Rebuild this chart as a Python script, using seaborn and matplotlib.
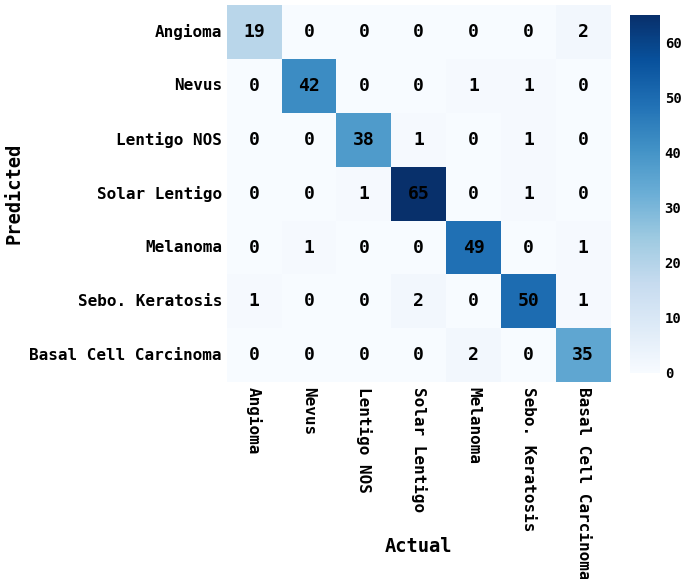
import matplotlib
matplotlib.use("Agg")
import matplotlib.pyplot as plt
import seaborn as sns
import numpy as np

classes = ["Angioma", "Nevus", "Lentigo NOS", "Solar Lentigo", "Melanoma",
           "Sebo. Keratosis", "Basal Cell Carcinoma"]
row_angioma = [19, 0, 0, 0, 0, 0, 2]
row_nevus = [0, 42, 0, 0, 1, 1, 0]
row_lentigo = [0, 0, 38, 1, 0, 1, 0]
row_solar = [0, 0, 1, 65, 0, 1, 0]
row_melanoma = [0, 1, 0, 0, 49, 0, 1]
row_sebo = [1, 0, 0, 2, 0, 50, 1]
row_bcc = [0, 0, 0, 0, 2, 0, 35]

cm = np.array([row_angioma, row_nevus, row_lentigo, row_solar,
               row_melanoma, row_sebo, row_bcc])

plt.rcParams['font.family'] = ['DejaVu Sans Mono']
plt.rcParams['font.weight'] = 'bold'

fig = plt.figure(figsize=(6.83, 5.79), dpi=100)
ax = fig.add_axes([0.332, 0.340, 0.562, 0.651])
cax = fig.add_axes([0.922, 0.356, 0.044, 0.618])

sns.heatmap(cm, annot=True, fmt="d", cmap="Blues", vmin=0, vmax=65,
            xticklabels=classes, yticklabels=classes, ax=ax, cbar_ax=cax,
            annot_kws={"size": 13, "weight": "bold", "color": "black"})

ax.set_xlabel("Actual", fontsize=13.5, fontweight="bold")
ax.set_ylabel("Predicted", fontsize=13.5, fontweight="bold")
ax.xaxis.set_label_coords(0.5, -0.41)
ax.tick_params(axis="both", length=0, labelsize=11.5)
plt.setp(ax.get_xticklabels(), rotation=270, fontweight="bold")
plt.setp(ax.get_yticklabels(), rotation=0, fontweight="bold")
cax.tick_params(labelsize=10, length=0)
cax.set_yticks([0, 10, 20, 30, 40, 50, 60])
plt.setp(cax.get_yticklabels(), fontweight="bold")

fig.savefig("out.png", dpi=100)
